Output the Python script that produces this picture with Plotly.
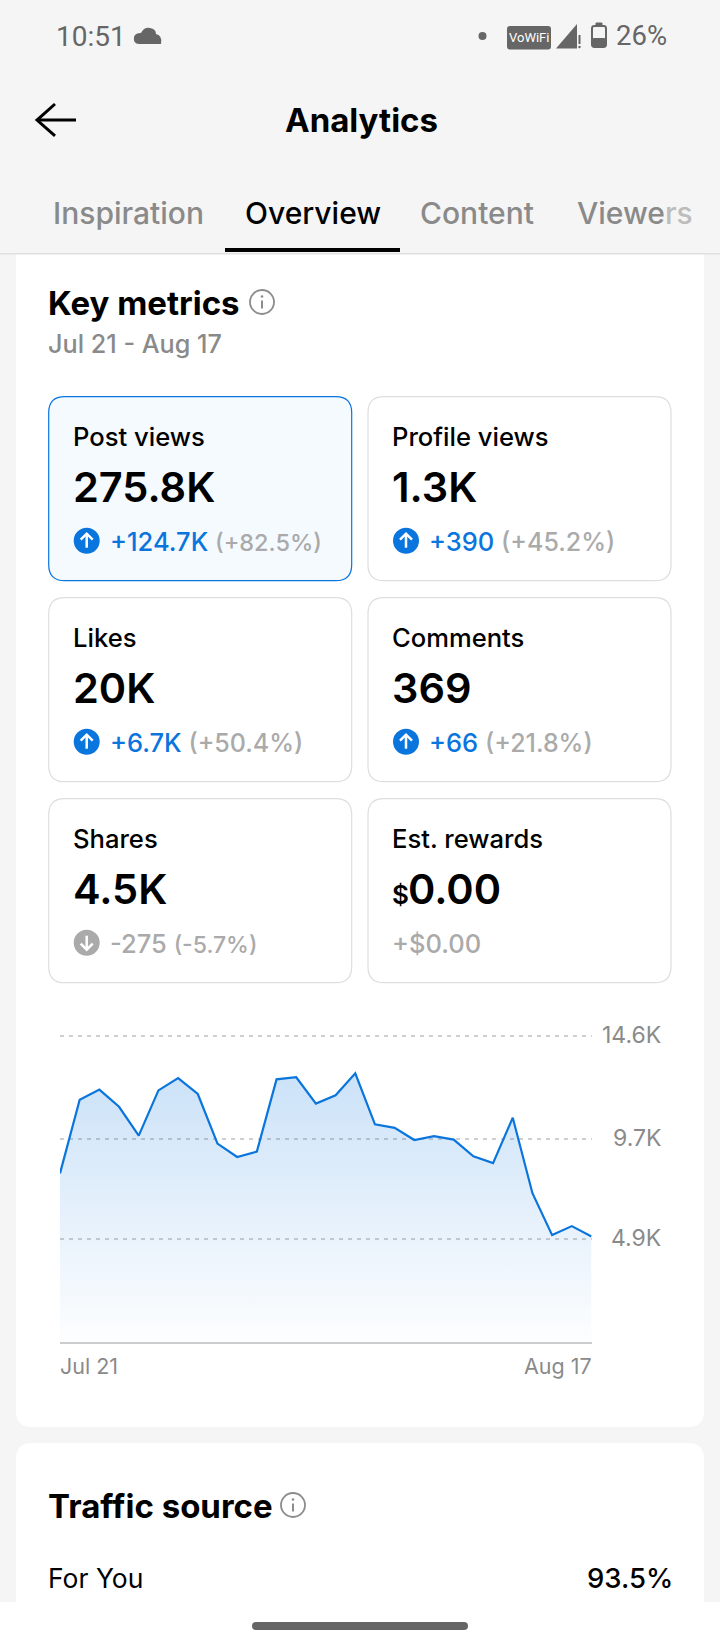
import plotly.graph_objects as go

# daily post views in thousands
days = ["Jul 21", "Jul 22", "Jul 23", "Jul 24", "Jul 25", "Jul 26", "Jul 27", "Jul 28", "Jul 29", "Jul 30", "Jul 31",
        "Aug 1", "Aug 2", "Aug 3", "Aug 4", "Aug 5", "Aug 6", "Aug 7", "Aug 8", "Aug 9", "Aug 10", "Aug 11",
        "Aug 12", "Aug 13", "Aug 14", "Aug 15", "Aug 16", "Aug 17"]
views = [8.04, 11.56, 12.04, 11.22, 9.84, 12.0, 12.59, 11.83, 9.46, 8.82, 9.08, 12.53, 12.63, 11.37,
         11.77, 12.82, 10.38, 10.21, 9.63, 9.82, 9.65, 8.85, 8.53, 10.70, 7.09, 5.09, 5.52, 5.02]
y_ticks = [14.6, 9.7, 4.9]
y_tick_labels = ["14.6K", "9.7K", "4.9K"]
x_tick_labels = ["Jul 21", "Aug 17"]

card_titles = ["Post views", "Profile views", "Likes", "Comments", "Shares", "Est. rewards"]
card_values = ["275.8K", "1.3K", "20K", "369", "4.5K", "0.00"]
card_deltas = ["+124.7K", "+390", "+6.7K", "+66", "-275", "+$0.00"]
card_pcts = ["(+82.5%)", "(+45.2%)", "(+50.4%)", "(+21.8%)", "(-5.7%)", ""]

tabs = ["Inspiration", "Overview", "Content"]

W, H = 720, 1650
BG = "#f5f5f5"
BLUE = "#0a75dd"
GRAY = "#8a8a8a"
LIGHT = "#aaaaaa"
FONT = "Inter"
# the first and fifth tile squeeze their percentage a little
PCT_SIZE = {0: 23.5, 4: 23}


def px(x):
    return x / W


def py(y):
    return 1 - y / H


def rounded(x0, y0, x1, y1, r):
    pts = [("M", x0 + r, y0), ("L", x1 - r, y0), ("Q", x1, y0, x1, y0 + r), ("L", x1, y1 - r),
           ("Q", x1, y1, x1 - r, y1), ("L", x0 + r, y1), ("Q", x0, y1, x0, y1 - r), ("L", x0, y0 + r),
           ("Q", x0, y0, x0 + r, y0)]
    out = ""
    for p in pts:
        out += p[0]
        for i in range(1, len(p), 2):
            out += f" {px(p[i]):.5f},{py(p[i + 1]):.5f} "
    return out + "Z"


def line_path(points, close=False):
    out = ""
    for i, (x, y) in enumerate(points):
        out += ("M" if i == 0 else "L") + f" {px(x):.5f},{py(y):.5f} "
    return out + ("Z" if close else "")


shapes = []


def add_path(path, fill=None, color=None, width=0):
    shapes.append(dict(type="path", xref="paper", yref="paper", path=path, layer="below",
                       fillcolor=fill if fill else "rgba(0,0,0,0)",
                       line=dict(color=color if color else "rgba(0,0,0,0)", width=width)))


def add_circle(cx, cy, r, fill=None, color=None, width=0):
    shapes.append(dict(type="circle", xref="paper", yref="paper", layer="below",
                       x0=px(cx - r), x1=px(cx + r), y0=py(cy + r), y1=py(cy - r),
                       fillcolor=fill if fill else "rgba(0,0,0,0)",
                       line=dict(color=color if color else "rgba(0,0,0,0)", width=width)))


annotations = []


def add_text(x, y, text, size, color="#000000", anchor="left", weight=400, family=FONT):
    annotations.append(dict(xref="paper", yref="paper", x=px(x), y=py(y), text=text, showarrow=False,
                            xanchor=anchor, yanchor="middle", borderpad=0,
                            font=dict(family=family, size=size, color=color, weight=weight)))


def info_icon(cx, cy):
    add_circle(cx, cy, 12, color="#8c8c8c", width=1.8)
    add_path(line_path([(cx, cy - 1.5), (cx, cy + 6.5)]), color="#8c8c8c", width=2)
    add_circle(cx, cy - 5.5, 1.3, fill="#8c8c8c")


# main cards go first, the header then covers the top of the first one
add_path(rounded(16, 230, 704, 1427, 16), fill="#ffffff")
add_path(rounded(16, 1443, 704, 1640, 16), fill="#ffffff")
add_path(rounded(0, 0, W, 253, 0.1), fill=BG)

# status bar
add_text(55, 36, "10:51", 28, "#666666", family="Roboto")
add_path("M %.5f,%.5f Q %.5f,%.5f %.5f,%.5f Q %.5f,%.5f %.5f,%.5f Q %.5f,%.5f %.5f,%.5f Q %.5f,%.5f %.5f,%.5f Q %.5f,%.5f %.5f,%.5f Z" % (
    px(139), py(44), px(133), py(44), px(134), py(37),
    px(135), py(33), px(141), py(33),
    px(144), py(27), px(150), py(28),
    px(156), py(29), px(156), py(34),
    px(163), py(36), px(161), py(44)), fill="#666666")
add_circle(482.5, 36, 4, fill="#666666")
add_path(rounded(507, 26, 551, 49.5, 3), fill="#666666")
add_text(529, 37.5, "VoWiFi", 13, "#ffffff", anchor="center", family="Roboto")
add_path(line_path([(556, 48.5), (577, 24), (577, 48.5)], close=True), fill="#666666")
add_path(line_path([(579.5, 35), (579.5, 44)]), color="#666666", width=2)
add_circle(579.5, 47, 1.2, fill="#666666")
add_path(rounded(592, 26, 606, 47, 2.5), color="#666666", width=2)
add_path(rounded(592, 38, 606, 47, 2), fill="#666666")
add_path(rounded(595.5, 22.5, 602.5, 27, 1), fill="#666666")
add_text(615, 35, "26%", 27.5, "#666666", family="Roboto")

# app header
add_path(line_path([(55, 104), (37, 120), (55, 136)]), color="#000000", width=3)
add_path(line_path([(37, 120), (76, 120)]), color="#000000", width=3)
add_text(361, 120, "Analytics", 33, anchor="center", weight=700)

add_text(51.5, 213, tabs[0], 30, GRAY, weight=500)
add_text(244, 213, tabs[1], 30, "#000000", weight=500)
add_text(419, 213, tabs[2], 30, GRAY, weight=500)
add_text(576, 213, '<span style="color:#8a8a8a">Viewe</span><span style="color:#bdbdbd">rs</span>', 30, GRAY, weight=500)
add_path(rounded(225, 248, 400, 252, 0.1), fill="#000000")
add_path(rounded(0, 253, W, 254.5, 0.1), fill="#e0e0e0")

add_text(47, 303, "Key metrics", 33, weight=700)
info_icon(262, 302)
add_text(47, 344, "Jul 21 - Aug 17", 25.2, GRAY, weight=500)

# metric tiles
for i, title in enumerate(card_titles):
    col, row = i % 2, i // 2
    x0 = 48.7 + col * 319.3
    y0 = 396.7 + row * 201
    selected = i == 0
    add_path(rounded(x0, y0, x0 + 303, y0 + 184, 16),
             fill="#f5faff" if selected else "#ffffff",
             color=BLUE if selected else "#dedede", width=1.2)
    tx = x0 + 23
    add_text(tx, y0 + 40, title, 25.6, weight=500)
    if title == "Est. rewards":
        add_text(tx, y0 + 96, "$", 26, weight=600)
        add_text(tx + 16, y0 + 90, card_values[i], 41.5, weight=600)
    else:
        add_text(tx, y0 + 90, card_values[i], 41.5, weight=600)

    delta = card_deltas[i]
    if card_pcts[i] == "":
        add_text(tx, y0 + 145, delta, 25.5, LIGHT, weight=500)
        continue
    up = delta.startswith("+")
    cx, cy = x0 + 38, y0 + 144
    add_circle(cx, cy, 13, fill=BLUE if up else LIGHT)
    sign = -1 if up else 1
    add_path(line_path([(cx, cy - sign * 7), (cx, cy + sign * 7)]), color="#ffffff", width=2.5)
    add_path(line_path([(cx - 6, cy + sign), (cx, cy + sign * 7), (cx + 6, cy + sign)]), color="#ffffff", width=2.5)
    delta_color = BLUE if up else LIGHT
    pct_size = PCT_SIZE.get(i, 25)
    add_text(x0 + 60, y0 + 145,
             f'<span style="color:{delta_color}">{delta}</span> '
             f'<span style="color:{LIGHT};font-size:{pct_size}px">{card_pcts[i]}</span>',
             25.5, LIGHT, weight=500)

# traffic source card
add_text(47, 1506, "Traffic source", 33, weight=700)
info_icon(293, 1505)
add_text(47, 1578, "For You", 26.5)
add_text(674, 1578, "93.5%", 27.5, anchor="right", weight=500)

# navigation bar
add_path(rounded(0, 1602, W, H, 0.1), fill="#ffffff")
add_path(rounded(252, 1622, 468, 1630, 4), fill="#666666")

# the chart itself
fig = go.Figure()
fig.add_trace(go.Scatter(
    x=days, y=views, mode="lines", fill="tozeroy",
    line=dict(color=BLUE, width=2.2),
    fillgradient=dict(type="vertical",
                      colorscale=[[0, "rgba(10,117,221,0.01)"], [1, "rgba(10,117,221,0.21)"]]),
    hoverinfo="skip", showlegend=False,
))

for val, label in zip(y_ticks, y_tick_labels):
    annotations.append(dict(xref="paper", yref="y", x=px(662), y=val, text=label, showarrow=False,
                            xanchor="right", yanchor="middle", yshift=1, borderpad=0,
                            font=dict(family=FONT, size=23, color=GRAY)))
annotations.append(dict(xref="x", yref="paper", x=x_tick_labels[0], y=py(1366), text=x_tick_labels[0],
                        showarrow=False, xanchor="left", xshift=-1, yanchor="middle", borderpad=0,
                        font=dict(family=FONT, size=21.5, color=GRAY)))
annotations.append(dict(xref="x", yref="paper", x=x_tick_labels[1], y=py(1366), text=x_tick_labels[1],
                        showarrow=False, xanchor="right", xshift=1, yanchor="middle", borderpad=0,
                        font=dict(family=FONT, size=21.5, color=GRAY)))

fig.update_layout(
    width=W, height=H, autosize=False,
    margin=dict(l=0, r=0, t=0, b=0),
    paper_bgcolor=BG, plot_bgcolor="rgba(0,0,0,0)",
    shapes=shapes, annotations=annotations,
    xaxis=dict(domain=[px(60), px(591.5)], type="category", range=[0, len(days) - 1],
               categoryorder="array", categoryarray=days, showgrid=False, zeroline=False,
               showline=True, linecolor="#cccccc", linewidth=2, showticklabels=False, ticks="", fixedrange=True),
    # a little headroom over 14.6 so its gridline is still drawn
    yaxis=dict(domain=[py(1341.7), py(1033.9)], range=[0, 14.7], tickvals=y_ticks, showticklabels=False, ticks="",
               showgrid=True, gridcolor="#cfcfcf", gridwidth=1.5, griddash="4px,5px",
               zeroline=False, showline=False, fixedrange=True),
)

fig.write_html("out.html", config={"displayModeBar": False}, post_script="document.body.style.margin='0';")
